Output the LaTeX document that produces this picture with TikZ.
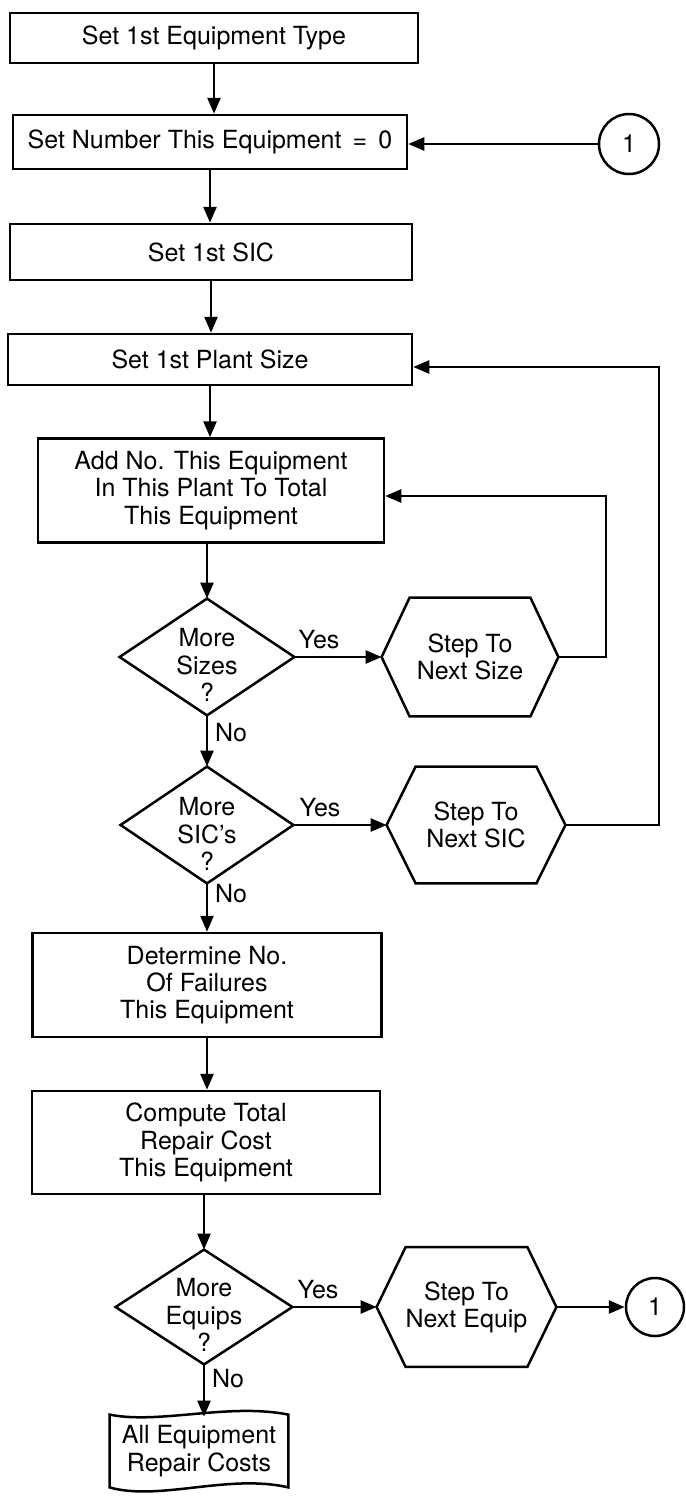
\documentclass[tikz,border=0pt]{standalone}
\usepackage{fontspec}
\setmainfont{TeX Gyre Heros}
\usetikzlibrary{arrows.meta,calc}
\begin{document}
\begin{tikzpicture}[x=0.5pt,y=-0.5pt,
  every node/.style={font=\fontsize{12.5}{13.6}\selectfont, inner sep=0pt, align=center},
  box/.style={draw, line width=1.25pt, rectangle},
  shp/.style={rectangle},
  arr/.style={line width=1.3pt, -{Triangle[length=8pt,width=6.5pt]}},
  ln/.style={line width=1.25pt, line join=miter},
  conn/.style={draw, circle, line width=1.25pt, minimum size=30pt}
]
\useasboundingbox (0,0) rectangle (686,1501);

% process boxes
\node[box, minimum width=204pt, minimum height=25pt] (b1) at (214,38) {Set 1st Equipment Type};
\node[box, minimum width=197pt, minimum height=27pt] (b2) at (210,142) {Set Number This Equipment \,=\, 0};
\node[conn] (c1) at (629,144) {1};
\node[box, minimum width=201pt, minimum height=28pt] (b3) at (211,252) {Set 1st SIC};
\node[box, minimum width=202pt, minimum height=25.5pt] (b4) at (210,359.5) {Set 1st Plant Size};
\node[box, minimum width=173pt, minimum height=52pt] (b5) at (211,490.5) {Add No. This Equipment\\In This Plant To Total\\This Equipment};

% decision 1
\node[shp, minimum width=87pt, minimum height=58pt] (d1) at (207,657) {};
\draw[ln] (d1.north) -- (d1.east) -- (d1.south) -- (d1.west) -- cycle;
\node (d1t) at (207,665) {More\\Sizes\\?};
\node[shp, minimum width=88pt, minimum height=59pt] (h1) at (470,657) {Step To\\Next Size};
\draw[ln] (h1.west) -- ($(h1.north west)+(28,0)$) -- ($(h1.north east)+(-28,0)$) -- (h1.east) -- ($(h1.south east)+(-28,0)$) -- ($(h1.south west)+(28,0)$) -- cycle;
\node (y1) at (319,640) {Yes};
\node (n1) at (231,733) {No};

% decision 2
\node[shp, minimum width=86pt, minimum height=58pt] (d2) at (207,825) {};
\draw[ln] (d2.north) -- (d2.east) -- (d2.south) -- (d2.west) -- cycle;
\node (d2t) at (207,834) {More\\SIC's\\?};
\node[shp, minimum width=89pt, minimum height=58pt] (h2) at (476,825) {Step To\\Next SIC};
\draw[ln] (h2.west) -- ($(h2.north west)+(29,0)$) -- ($(h2.north east)+(-29,0)$) -- (h2.east) -- ($(h2.south east)+(-29,0)$) -- ($(h2.south west)+(29,0)$) -- cycle;
\node (y2) at (320,808) {Yes};
\node (n2) at (231,894) {No};

\node[box, minimum width=174.5pt, minimum height=52pt] (b6) at (207,985) {Determine No.\\Of Failures\\This Equipment};
\node[box, minimum width=174pt, minimum height=51.5pt] (b7) at (206,1142.5) {Compute Total\\Repair Cost\\This Equipment};

% decision 3
\node[shp, minimum width=88pt, minimum height=57pt] (d3) at (204,1307) {};
\draw[ln] (d3.north) -- (d3.east) -- (d3.south) -- (d3.west) -- cycle;
\node (d3t) at (204,1315) {More\\Equips\\?};
\node[shp, minimum width=89.5pt, minimum height=59.5pt] (h3) at (466.5,1307) {Step To\\Next Equip};
\draw[ln] (h3.west) -- ($(h3.north west)+(29,0)$) -- ($(h3.north east)+(-29,0)$) -- (h3.east) -- ($(h3.south east)+(-29,0)$) -- ($(h3.south west)+(29,0)$) -- cycle;
\node (y3) at (318,1290) {Yes};
\node (n3) at (228,1379) {No};
\node[conn, minimum size=29pt] (c2) at (655,1307) {1};

% document
\node[shp, minimum width=89pt, minimum height=36pt] (doc) at (199,1451) {All Equipment\\Repair Costs};
\draw[ln] (doc.north west) .. controls ($(doc.north west)+(50,10)$) and ($(doc.north east)+(-60,-12)$) .. (doc.north east)
  -- (doc.south east) .. controls ($(doc.south east)+(-60,-14)$) and ($(doc.south west)+(50,14)$) .. (doc.south west) -- cycle;

% connectors
\draw[arr] (b1.south) -- (b1.south |- b2.north);
\draw[arr] (c1) -- (b2.east |- c1);
\draw[arr] (b2.south) -- (b2.south |- b3.north);
\draw[arr] (b3.south) -- (b3.south |- b4.north);
\draw[arr] (b4.south) -- (b4.south |- b5.north);
\draw[arr] (b5.south -| d1.north) -- (d1.north);
\draw[arr] (d1.east) -- (h1.west);
\draw[arr] (d1.south) -- (d1.south |- d2.north);
\draw[arr] (d2.east) -- (h2.west);
\coordinate (l1) at (606,496);
\draw[arr] (h1.east) -| (l1) -- (b5.east |- l1);
\coordinate (l2) at (659,367);
\draw[arr] (h2.east) -| (l2) -- (b4.east |- l2);
\draw[arr] (d2.south) -- (d2.south |- b6.north);
\draw[arr] (b6.south) -- (b6.south |- b7.north);
\draw[arr] (b7.south -| d3.north) -- (d3.north);
\draw[arr] (d3.east) -- (h3.west);
\draw[arr] (h3.east) -- (c2);
\draw[arr] (d3.south) -- ($(d3.south |- doc.north)+(0,2)$);
\end{tikzpicture}
\end{document}
